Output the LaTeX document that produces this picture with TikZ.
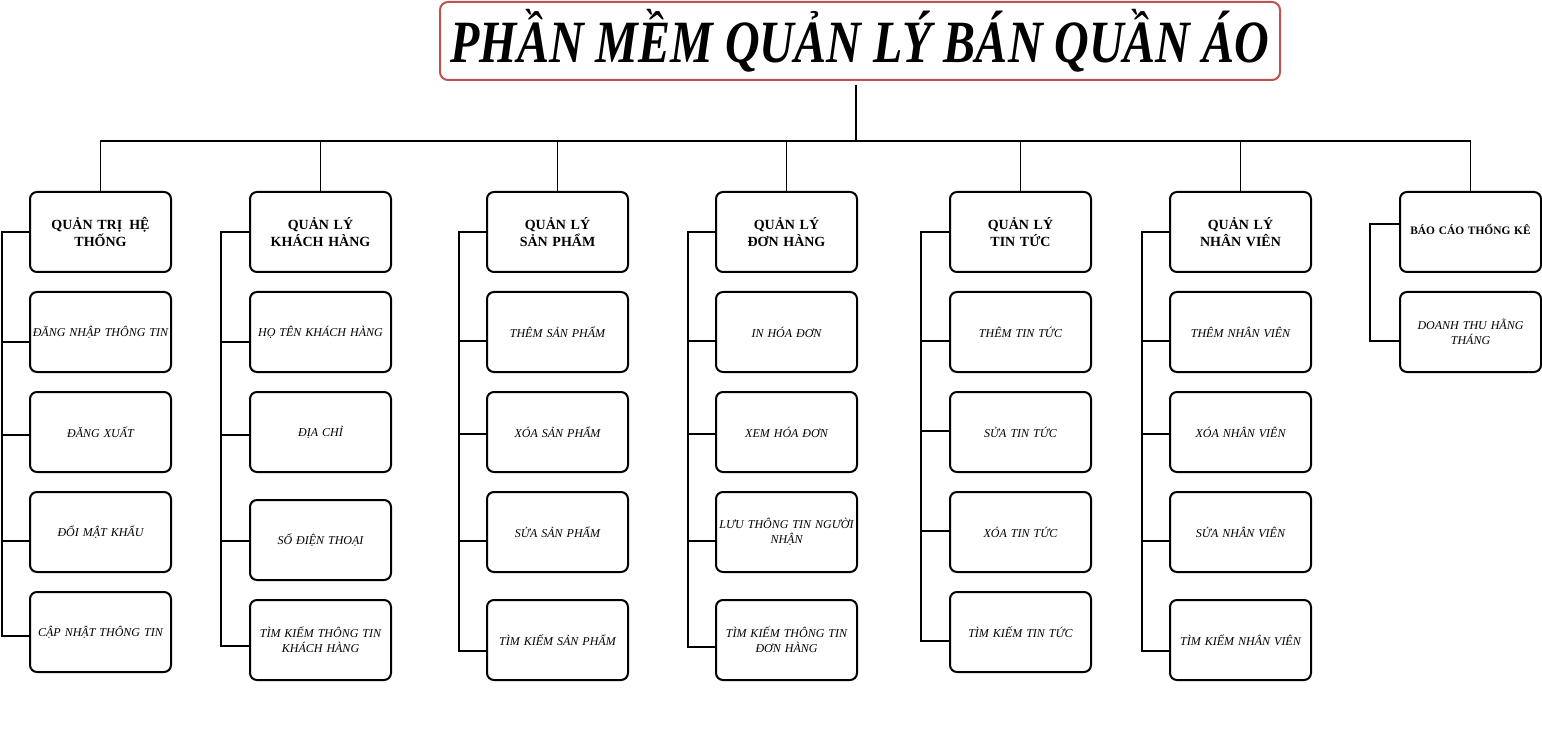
\documentclass[tikz,border=0pt]{standalone}
\usepackage{fontspec}
\setmainfont{Liberation Serif}
\definecolor{titlered}{RGB}{190,82,78}
\begin{document}
\begin{tikzpicture}[x=0.5pt,y=-0.5pt,
  box/.style={draw, line width=1pt, rounded corners=3.5pt, minimum width=70.5pt, minimum height=40pt, inner sep=0pt, align=center, text width=70pt},
  hd/.style={box, font=\fontsize{7}{8.5}\selectfont\bfseries},
  it/.style={box, font=\fontsize{6}{7.5}\selectfont\itshape},
  titlebox/.style={draw=titlered, line width=1pt, rounded corners=4pt, minimum width=420pt, minimum height=39pt, inner sep=0pt, font=\fontsize{30}{32}\selectfont\bfseries\itshape},
  conn/.style={line width=0.6pt}]
\useasboundingbox (0,0) rectangle (1542,743);

\node[titlebox] (title) at (860,41) {\scalebox{0.8}[1]{PHẦN MỀM QUẢN LÝ BÁN QUẦN ÁO}};

% column 1
\node[hd] (h1) at (100.5,232) {QUẢN TRỊ\enspace HỆ\\THỐNG};
\node[it] (c11) at (100.5,332) {ĐĂNG NHẬP THÔNG TIN};
\node[it] (c12) at (100.5,432) {ĐĂNG XUẤT};
\node[it] (c13) at (100.5,532) {ĐỔI MẬT KHẨU};
\node[it] (c14) at (100.5,632) {CẬP NHẬT THÔNG TIN};
% column 2
\node[hd] (h2) at (320.5,232) {QUẢN LÝ\\KHÁCH HÀNG};
\node[it] (c21) at (320.5,332) {HỌ TÊN KHÁCH HÀNG};
\node[it] (c22) at (320.5,432) {ĐỊA CHỈ};
\node[it] (c23) at (320.5,540) {SỐ ĐIỆN THOẠI};
\node[it] (c24) at (320.5,640) {TÌM KIẾM THÔNG TIN\\KHÁCH HÀNG};
% column 3
\node[hd] (h3) at (557.5,232) {QUẢN LÝ\\SẢN PHẨM};
\node[it] (c31) at (557.5,332) {THÊM SẢN PHẨM};
\node[it] (c32) at (557.5,432) {XÓA SẢN PHẨM};
\node[it] (c33) at (557.5,532) {SỬA SẢN PHẨM};
\node[it] (c34) at (557.5,640) {TÌM KIẾM SẢN PHẨM};
% column 4
\node[hd] (h4) at (786.5,232) {QUẢN LÝ\\ĐƠN HÀNG};
\node[it] (c41) at (786.5,332) {IN HÓA ĐƠN};
\node[it] (c42) at (786.5,432) {XEM HÓA ĐƠN};
\node[it] (c43) at (786.5,532) {LƯU THÔNG TIN NGƯỜI\\NHẬN};
\node[it] (c44) at (786.5,640) {TÌM KIẾM THÔNG TIN\\ĐƠN HÀNG};
% column 5
\node[hd] (h5) at (1020.5,232) {QUẢN LÝ\\TIN TỨC};
\node[it] (c51) at (1020.5,332) {THÊM TIN TỨC};
\node[it] (c52) at (1020.5,432) {SỬA TIN TỨC};
\node[it] (c53) at (1020.5,532) {XÓA TIN TỨC};
\node[it] (c54) at (1020.5,632) {TÌM KIẾM TIN TỨC};
% column 6
\node[hd] (h6) at (1240.5,232) {QUẢN LÝ\\NHÂN VIÊN};
\node[it] (c61) at (1240.5,332) {THÊM NHÂN VIÊN};
\node[it] (c62) at (1240.5,432) {XÓA NHÂN VIÊN};
\node[it] (c63) at (1240.5,532) {SỬA NHÂN VIÊN};
\node[it] (c64) at (1240.5,640) {TÌM KIẾM NHÂN VIÊN};
% column 7
\node[hd, font=\fontsize{5.7}{7}\selectfont\bfseries] (h7) at (1470.5,232) {\raisebox{3pt}{BÁO CÁO THỐNG KÊ}};
\node[it] (c71) at (1470.5,332) {DOANH THU HẰNG\\THÁNG};

% top bus
\coordinate (bus) at (0,141);
\coordinate (tx) at (856,0);
\draw[conn] ([yshift=-2pt]title.south -| tx) -- (tx |- bus);
\draw[conn] (h1.north) |- (h7.north |- bus) -- (h7.north);
\foreach \h in {h2,h3,h4,h5,h6} \draw[conn] (\h.north) -- (\h.north |- bus);

% spines
\coordinate (s1) at (2,0);
\coordinate (s2) at (221,0);
\coordinate (s3) at (459,0);
\coordinate (s4) at (688,0);
\coordinate (s5) at (921,0);
\coordinate (s6) at (1142,0);
\coordinate (s7) at (1370,0);

\draw[conn] ([yshift=-2pt]c14.west) coordinate (t) -- (t -| s1) |- (h1.west);
\foreach \n/\o in {c11/10,c12/3,c13/9}
  \draw[conn] ([yshift=-\o*0.5pt]\n.west) coordinate (t) -- (t -| s1);

\draw[conn] ([yshift=-3pt]c24.west) coordinate (t) -- (t -| s2) |- (h2.west);
\foreach \n/\o in {c21/10,c22/3,c23/1}
  \draw[conn] ([yshift=-\o*0.5pt]\n.west) coordinate (t) -- (t -| s2);

\draw[conn] ([yshift=-5.5pt]c34.west) coordinate (t) -- (t -| s3) |- (h3.west);
\foreach \n/\o in {c31/9,c32/2,c33/9}
  \draw[conn] ([yshift=-\o*0.5pt]\n.west) coordinate (t) -- (t -| s3);

\draw[conn] ([yshift=-3.5pt]c44.west) coordinate (t) -- (t -| s4) |- (h4.west);
\foreach \n/\o in {c41/9,c42/2,c43/9}
  \draw[conn] ([yshift=-\o*0.5pt]\n.west) coordinate (t) -- (t -| s4);

\draw[conn] ([yshift=-4.5pt]c54.west) coordinate (t) -- (t -| s5) |- (h5.west);
\foreach \n/\o in {c51/9,c52/-1,c53/-1}
  \draw[conn] ([yshift=-\o*0.5pt]\n.west) coordinate (t) -- (t -| s5);

\draw[conn] ([yshift=-5.5pt]c64.west) coordinate (t) -- (t -| s6) |- (h6.west);
\foreach \n/\o in {c61/9,c62/2,c63/9}
  \draw[conn] ([yshift=-\o*0.5pt]\n.west) coordinate (t) -- (t -| s6);

\draw[conn] ([yshift=-4.5pt]c71.west) coordinate (t) -- (t -| s7) |- ([yshift=4pt]h7.west);
\end{tikzpicture}
\end{document}
